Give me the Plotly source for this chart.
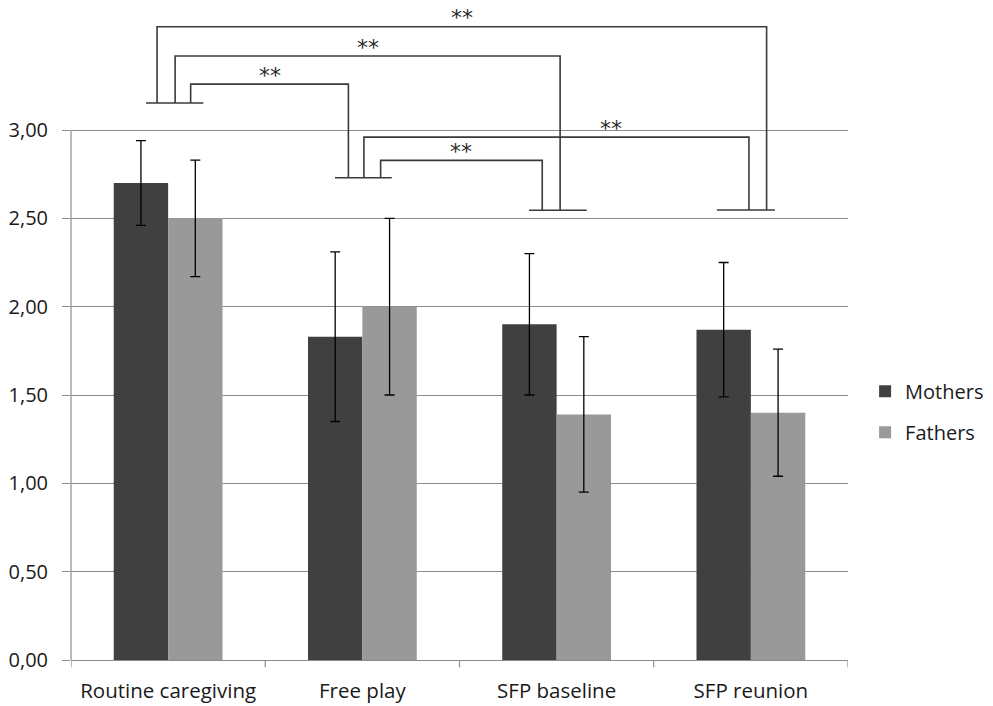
import plotly.graph_objects as go

categories = ["Routine caregiving", "Free play", "SFP baseline", "SFP reunion"]
mothers = [2.70, 1.83, 1.90, 1.87]
mothers_err = [0.24, 0.48, 0.40, 0.38]
fathers = [2.50, 2.00, 1.39, 1.40]
fathers_err = [0.33, 0.50, 0.44, 0.36]

y_tickvals = [0, 0.5, 1.0, 1.5, 2.0, 2.5, 3.0]
y_ticktext = ["0,00", "0,50", "1,00", "1,50", "2,00", "2,50", "3,00"]

# significance brackets: (left category, right category)
sig_pairs = [(0, 3), (0, 2), (0, 1), (1, 3), (1, 2)]
sig_labels = ["**", "**", "**", "**", "**"]
sig_levels = [3.585, 3.419, 3.260, 2.960, 2.828]
sig_left_off = [-0.057, 0.036, 0.116, 0.008, 0.094]
sig_right_off = [0.081, 0.018, -0.072, -0.010, -0.074]
sig_label_pos = [0.5, 0.5, 0.5, 0.643, 0.5]
# base bars under each category
base_levels = [3.153, 2.730, 2.546, 2.547]
base_left = [-0.114, -0.141, -0.142, -0.175]
base_right = [0.181, 0.151, 0.155, 0.124]

FONT = "Open Sans, Noto Sans, sans-serif"
GRID = "#8c8c8c"
LINE = "#3a3a3a"
TXT = "#1a1a1a"

fig = go.Figure()
fig.add_trace(go.Bar(
    name="Mothers", x=list(range(4)), y=mothers, marker_color="#404040",
    marker_line_width=0, legendgroup="m",
    error_y=dict(type="data", array=mothers_err, color="#000000", thickness=1.3, width=5),
))
fig.add_trace(go.Bar(
    name="Fathers", x=list(range(4)), y=fathers, marker_color="#999999",
    marker_line_width=0, legendgroup="f",
    error_y=dict(type="data", array=fathers_err, color="#000000", thickness=1.3, width=5),
))

shapes = []
# y axis line only up to 3.00
shapes.append(dict(type="line", xref="paper", yref="y", x0=0, x1=0, y0=0, y1=3.0,
                   line=dict(color=GRID, width=1.2)))
for i in range(4):
    shapes.append(dict(type="line", xref="x", yref="y",
                       x0=i + base_left[i], x1=i + base_right[i],
                       y0=base_levels[i], y1=base_levels[i],
                       line=dict(color=LINE, width=1.6)))
annotations = []
for (a, b), lab, lev, lo, ro, lp in zip(sig_pairs, sig_labels, sig_levels,
                                        sig_left_off, sig_right_off, sig_label_pos):
    xl = a + lo
    xr = b + ro
    shapes.append(dict(type="path", xref="x", yref="y",
                       path=f"M {xl} {base_levels[a]} L {xl} {lev} L {xr} {lev} L {xr} {base_levels[b]}",
                       line=dict(color=LINE, width=1.6)))
    annotations.append(dict(x=xl + (xr - xl) * lp, y=lev, xref="x", yref="y", text=lab,
                            showarrow=False, yanchor="middle", yshift=9,
                            font=dict(family="DejaVu Sans", size=22, color="#2a2a2a")))
# category boundary ticks on x axis
for i in range(5):
    shapes.append(dict(type="line", xref="x", yref="paper", x0=i - 0.5, x1=i - 0.5,
                       y0=0, y1=-0.011, line=dict(color=GRID, width=1.2)))

fig.update_layout(
    width=993, height=706,
    margin=dict(l=71, r=145, t=0, b=46, autoexpand=False),
    paper_bgcolor="white", plot_bgcolor="white",
    barmode="group", bargap=0.44, bargroupgap=0,
    font=dict(family=FONT, size=20, color=TXT),
    showlegend=True,
    legend=dict(x=1.022, y=0.376, xanchor="left", yanchor="middle",
                font=dict(family=FONT, size=20, color=TXT),
                tracegroupgap=12, traceorder="grouped", itemwidth=30),
    shapes=shapes, annotations=annotations,
    xaxis=dict(tickvals=list(range(4)), ticktext=categories, range=[-0.5, 3.5],
               showline=True, linecolor=GRID, linewidth=1.2,
               ticks="", showgrid=False, zeroline=False, ticklabelstandoff=12,
               automargin=False,
               tickfont=dict(family=FONT, size=20.5, color=TXT)),
    yaxis=dict(range=[0, 3.736], tickvals=y_tickvals, ticktext=y_ticktext,
               showgrid=True, gridcolor=GRID, gridwidth=1, zeroline=False,
               showline=False, ticks="outside", ticklen=8, tickcolor=GRID,
               ticklabelstandoff=10, automargin=False,
               tickfont=dict(family=FONT, size=20, color=TXT)),
)

fig.write_html("out.html", config={"displayModeBar": False},
               post_script="document.body.style.margin='0';")
